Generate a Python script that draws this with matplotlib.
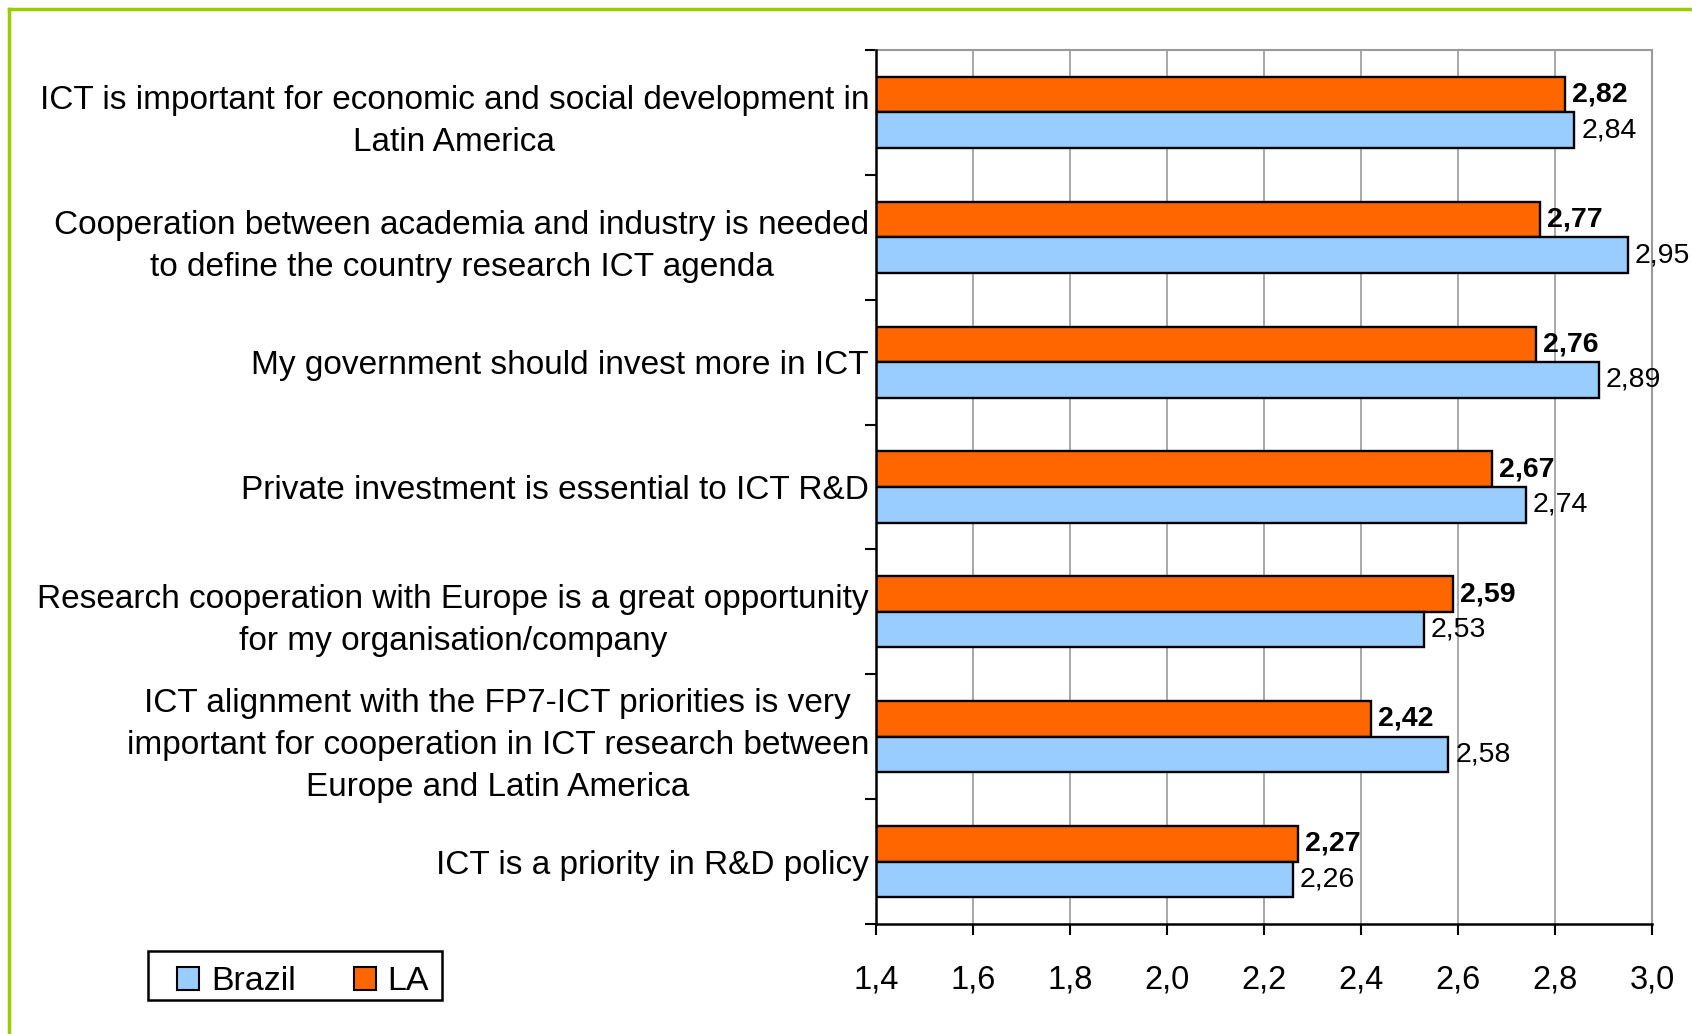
"""Brazil vs Latin America agreement scores on ICT statements."""

import matplotlib

matplotlib.use("Agg")
import matplotlib.pyplot as plt
import numpy as np
from matplotlib.lines import Line2D
from matplotlib.patches import Patch, Rectangle

plt.rcParams["font.family"] = ["Liberation Sans", "DejaVu Sans"]

statements = [
    "ICT is important for economic and social development in\nLatin America",
    "Cooperation between academia and industry is needed\nto define the country research ICT agenda",
    "My government should invest more in ICT",
    "Private investment is essential to ICT R&D",
    "Research cooperation with Europe is a great opportunity\nfor my organisation/company",
    "ICT alignment with the FP7-ICT priorities is very\nimportant for cooperation in ICT research between\nEurope and Latin America",
    "ICT is a priority in R&D policy",
]
la_scores = [2.82, 2.77, 2.76, 2.67, 2.59, 2.42, 2.27]
brazil_scores = [2.84, 2.95, 2.89, 2.74, 2.53, 2.58, 2.26]
x_ticks = [1.4, 1.6, 1.8, 2.0, 2.2, 2.4, 2.6, 2.8, 3.0]

LA_COLOR = "#FF6600"
BRAZIL_COLOR = "#99CCFF"
GRID_COLOR = "#9a9a9a"
W, H = 1692, 1034


def comma(value: float, digits: int) -> str:
    return f"{value:.{digits}f}".replace(".", ",")


fig = plt.figure(figsize=(W / 100, H / 100), dpi=100)
ax = fig.add_axes([876 / W, 1 - 924 / H, (1652 - 876) / W, (924 - 50) / H])

pos = np.arange(len(statements))
bar_h = 0.285
ax.barh(pos - bar_h / 2, la_scores, height=bar_h, color=LA_COLOR,
        edgecolor="black", linewidth=1.7, zorder=3)
ax.barh(pos + bar_h / 2, brazil_scores, height=bar_h, color=BRAZIL_COLOR,
        edgecolor="black", linewidth=1.7, zorder=3)

for i, (la, br) in enumerate(zip(la_scores, brazil_scores)):
    ax.annotate(comma(la, 2), (la, i - bar_h / 2), xytext=(5, 0),
                textcoords="offset points", ha="left", va="center",
                fontsize=20.5, fontweight="bold", annotation_clip=False)
    ax.annotate(comma(br, 2), (br, i + bar_h / 2), xytext=(5, 0),
                textcoords="offset points", ha="left", va="center",
                fontsize=20.5, annotation_clip=False)

ax.set_xlim(x_ticks[0], x_ticks[-1])
ax.set_ylim(len(statements) - 0.5, -0.5)

# x axis
ax.set_xticks(x_ticks)
ax.set_xticklabels([comma(v, 1) for v in x_ticks], fontsize=23.5)
ax.tick_params(axis="x", direction="out", length=8, width=1.5, pad=21)
ax.grid(axis="x", color=GRID_COLOR, linewidth=1.2, zorder=0)

# y axis: boundary ticks, labels at category centres
ax.set_yticks(np.arange(len(statements) + 1) - 0.5)
ax.set_yticklabels([])
ax.tick_params(axis="y", which="major", direction="out", length=8, width=1.5)
ax.set_yticks(pos, minor=True)
ax.set_yticklabels(statements, minor=True, fontsize=24,
                   multialignment="center", linespacing=1.45)
ax.tick_params(axis="y", which="minor", length=0, pad=5)

for side in ("left", "bottom"):
    ax.spines[side].set_color("black")
    ax.spines[side].set_linewidth(1.8)
    ax.spines[side].set_zorder(4)
for side in ("top", "right"):
    ax.spines[side].set_color(GRID_COLOR)
    ax.spines[side].set_linewidth(1.5)

# legend
handles = [
    Patch(facecolor=BRAZIL_COLOR, edgecolor="black", linewidth=1.5, label="Brazil"),
    Patch(facecolor=LA_COLOR, edgecolor="black", linewidth=1.5, label="LA"),
]
fig.legend(handles=handles, loc="center", bbox_to_anchor=(303 / W, 1 - 982 / H),
           ncol=2, frameon=False, fontsize=24.5, handlelength=0.65,
           handleheight=0.65, handletextpad=0.35, columnspacing=1.7)
fig.add_artist(Rectangle((148 / W, 1 - 1000 / H), (442 - 148) / W, 49 / H,
                         transform=fig.transFigure, fill=False,
                         edgecolor="black", linewidth=1.8))

# green page border (left and top)
border = dict(transform=fig.transFigure, color="#99CC00", linewidth=2.5)
fig.add_artist(Line2D([9 / W, 9 / W], [0, 1 - 9 / H], **border))
fig.add_artist(Line2D([9 / W, 1], [1 - 9 / H, 1 - 9 / H], **border))

fig.savefig("out.png", dpi=100)
